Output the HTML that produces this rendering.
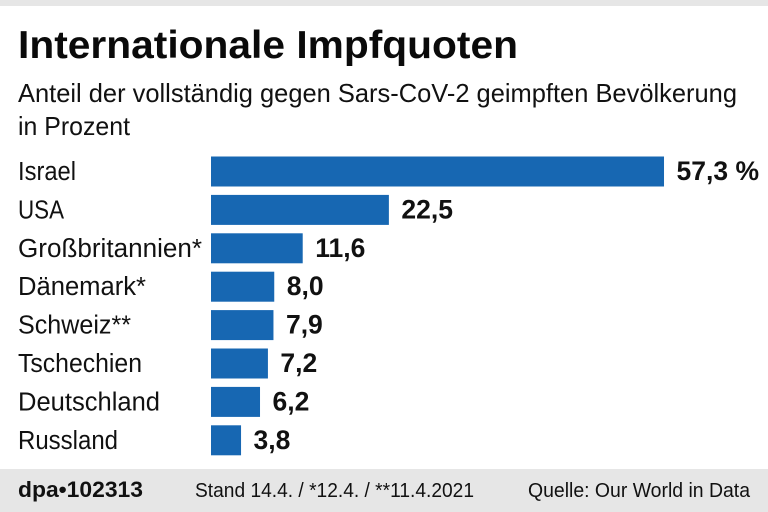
<!DOCTYPE html>
<html lang="de">
<head>
<meta charset="utf-8">
<title>Internationale Impfquoten</title>
<style>
html,body{margin:0;padding:0;background:#fff;}
svg{display:block;font-family:"Liberation Sans",sans-serif;fill:#111;}
</style>
</head>
<body>
<svg id="chart" width="768" height="512" viewBox="0 0 768 512" xmlns="http://www.w3.org/2000/svg">
  <rect x="0" y="0" width="768" height="6" fill="#e6e6e6"/>
  <rect x="0" y="469" width="768" height="43" fill="#e6e6e6"/>
  <text x="18" y="58" font-size="39" font-weight="700" textLength="500" lengthAdjust="spacingAndGlyphs" fill="#0a0a0a">Internationale Impfquoten</text>
  <text x="18" y="102" font-size="26" textLength="719" lengthAdjust="spacingAndGlyphs">Anteil der vollständig gegen Sars-CoV-2 geimpften Bevölkerung</text>
  <text x="18" y="135" font-size="26" textLength="112" lengthAdjust="spacingAndGlyphs">in Prozent</text>
  <g id="rows"></g>
  <text x="18" y="497" font-size="22" font-weight="700" textLength="125" lengthAdjust="spacingAndGlyphs">dpa•102313</text>
  <text x="195" y="497" font-size="20" textLength="279" lengthAdjust="spacingAndGlyphs">Stand 14.4. / *12.4. / **11.4.2021</text>
  <text x="528" y="497" font-size="20" textLength="222" lengthAdjust="spacingAndGlyphs">Quelle: Our World in Data</text>
</svg>
<script>
const categories = ["Israel", "USA", "Großbritannien*", "Dänemark*", "Schweiz**", "Tschechien", "Deutschland", "Russland"];
const values = [57.3, 22.5, 11.6, 8.0, 7.9, 7.2, 6.2, 3.8];
const valueUnit = " %";

const NS = "http://www.w3.org/2000/svg";
const rows = document.getElementById("rows");
const xZero = 211;
const pxPerUnit = 7.906;
const rowTop = 156.5;
const rowStep = 38.4;
const barHeight = 30;
const labelFit = {
  "Israel": 58,
  "USA": 46,
  "Großbritannien*": 184,
  "Dänemark*": 128,
  "Schweiz**": 113,
  "Tschechien": 124,
  "Deutschland": 142,
  "Russland": 100
};

function xScale(v) { return xZero + v * pxPerUnit; }
function yScale(i) { return rowTop + i * rowStep; }
function formatValue(v, i) {
  return v.toFixed(1).replace(".", ",") + (i === 0 ? valueUnit : "");
}

categories.forEach(function (name, i) {
  const slug = name.replace(/\*/g, "").toLowerCase().replace("ß", "ss").replace("ä", "ae");
  const mid = yScale(i) + barHeight / 2;

  const label = document.createElementNS(NS, "text");
  
  
  label.setAttribute("x", 18);
  label.setAttribute("y", mid + 8.5);
  label.setAttribute("font-size", 25.5);
  label.setAttribute("textLength", labelFit[name]);
  label.setAttribute("lengthAdjust", "spacingAndGlyphs");
  label.textContent = name;
  rows.appendChild(label);

  const bar = document.createElementNS(NS, "rect");
  
  
  bar.setAttribute("x", xZero);
  bar.setAttribute("y", yScale(i));
  bar.setAttribute("width", xScale(values[i]) - xZero);
  bar.setAttribute("height", barHeight);
  bar.setAttribute("fill", "#1767b2");
  rows.appendChild(bar);

  const val = document.createElementNS(NS, "text");
  
  
  val.setAttribute("x", xScale(values[i]) + 12.5);
  val.setAttribute("y", mid + 8.5);
  val.setAttribute("font-size", 26.5);
  val.setAttribute("font-weight", "700");
  val.textContent = formatValue(values[i], i);
  rows.appendChild(val);
});
</script>
</body>
</html>
